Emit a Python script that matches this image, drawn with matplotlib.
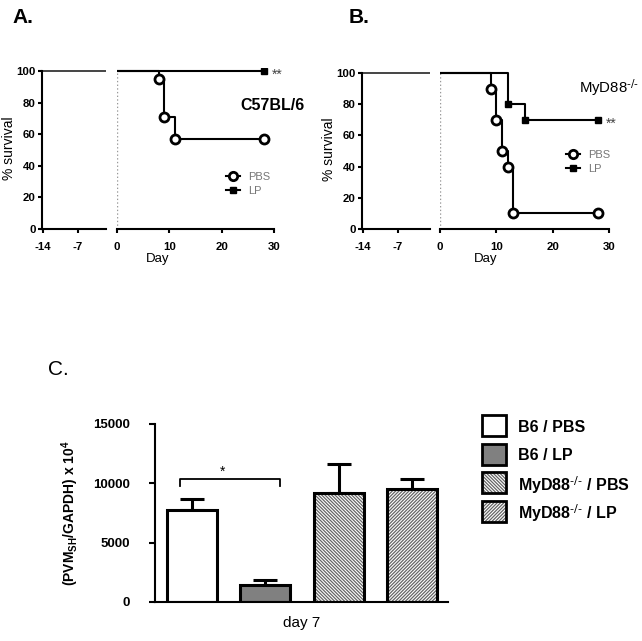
# Survival curves (A, B) and PVM_SH load at day 7 (C)
import numpy as np
import matplotlib
matplotlib.use('Agg')
import matplotlib.pyplot as plt
from matplotlib.patches import Rectangle
from matplotlib.lines import Line2D

plt.rcParams['font.family'] = ['Liberation Sans', 'DejaVu Sans']
plt.rcParams['mathtext.default'] = 'regular'
plt.rcParams['hatch.linewidth'] = 0.9

# Panel A: C57BL/6
a_pbs_day = [0, 8, 9, 11, 28]
a_pbs_surv = [100, 95, 71, 57, 57]
a_lp_day = [0, 28]
a_lp_surv = [100, 100]

# Panel B: MyD88-/-
b_pbs_day = [0, 9, 10, 11, 12, 13, 28]
b_pbs_surv = [100, 90, 70, 50, 40, 10, 10]
b_lp_day = [0, 12, 15, 28]
b_lp_surv = [100, 80, 70, 70]

# periodo previo a la infeccion (linea a 100%)
pre_days = [-15, 0]
pre_surv = [100, 100]

# Panel C
groups = ['B6 / PBS', 'B6 / LP', r'MyD88$^{\text{-/-}}$ / PBS', r'MyD88$^{\text{-/-}}$ / LP']
media = [7770, 1430, 9170, 9500]
sem = [890, 390, 2470, 900]

W, H = 642, 641
fig = plt.figure(figsize=(W / 100, H / 100), dpi=100)


def px(x0, y0, x1, y1):
    # caja en pixeles -> fraccion de figura
    return [x0 / W, 1 - y1 / H, (x1 - x0) / W, (y1 - y0) / H]


def survival(ax_pre, ax_post, pbs_d, pbs_s, lp_d, lp_s, pre_lim):
    for ax in (ax_pre, ax_post):
        ax.set_ylim(0, 102)
        for s in ('top', 'right'):
            ax.spines[s].set_visible(False)
        ax.spines['bottom'].set_linewidth(1.5)
        ax.tick_params(axis='both', direction='out', length=3, width=1.5,
                       labelsize=8.2, pad=1.5)
    ax_pre.spines['left'].set_linewidth(1.5)
    ax_pre.spines['left'].set_bounds(0, 100)
    ax_pre.set_yticks([0, 20, 40, 60, 80, 100])
    ax_pre.set_yticklabels(['0', '20', '40', '60', '80', '100'], fontweight='bold', fontsize=8.2)
    ax_pre.set_xlim(*pre_lim)
    ax_pre.set_xticks([-14, -7])
    ax_pre.set_xticklabels(['-14', '-7'], fontweight='bold', fontsize=8.2)
    ax_pre.tick_params(axis='x', pad=6)
    ax_pre.plot(pre_days, pre_surv, color='#444444', lw=1.4)
    ax_pre.set_ylabel('% survival', fontsize=10, labelpad=0)

    ax_post.spines['left'].set_visible(False)
    ax_post.set_yticks([])
    ax_post.set_xlim(0, 30)
    ax_post.set_xticks([0, 10, 20, 30])
    ax_post.set_xticklabels(['0', '10', '20', '30'], fontweight='bold', fontsize=8.2)
    ax_post.tick_params(axis='x', pad=6)
    ax_post.vlines(0, 0, 100, colors='#999999', linestyles=':', lw=1)
    ax_post.plot(lp_d, lp_s, drawstyle='steps-post', color='black', lw=1.5,
                 marker='s', markersize=5, markevery=slice(1, None), zorder=3)
    ax_post.plot(pbs_d, pbs_s, drawstyle='steps-post', color='black', lw=1.5,
                 marker='o', markersize=6.5, markerfacecolor='white', markeredgewidth=2,
                 markevery=slice(1, None), zorder=4)
    ax_post.annotate('**', xy=(lp_d[-1], lp_s[-1]), xytext=(6, -3), textcoords='offset points',
                     ha='left', va='center', fontsize=10, color='#444444')


def leyenda(ax, x0, y0):
    h = [Line2D([], [], color='black', lw=1.5, marker='o', markersize=6,
                markerfacecolor='white', markeredgewidth=2),
         Line2D([], [], color='black', lw=1.5, marker='s', markersize=4.5)]
    ax.legend(h, ['PBS', 'LP'], loc='upper left', bbox_to_anchor=(x0 / W, 1 - y0 / H),
              bbox_transform=fig.transFigure, frameon=False, fontsize=8, labelcolor='#777777',
              handlelength=1.3, handletextpad=0.7, labelspacing=0.35, borderpad=0, borderaxespad=0)


# A
axA1 = fig.add_axes(px(42, 229 - 158 * 1.02, 106, 229))
axA2 = fig.add_axes(px(117, 229 - 158 * 1.02, 274, 229))
survival(axA1, axA2, a_pbs_day, a_pbs_surv, a_lp_day, a_lp_surv, (-14.2, -1.4))
leyenda(axA2, 226, 172)
axA2.text(23.5, 78, 'C57BL/6', fontsize=11.5, fontweight='bold', va='center')
fig.text(158 / W, 1 - 259 / H, 'Day', ha='center', va='center', fontsize=9.5)
fig.text(12 / W, 1 - 23 / H, 'A.', fontsize=15, fontweight='bold')

# B
axB1 = fig.add_axes(px(362, 229 - 156 * 1.02, 430, 229))
axB2 = fig.add_axes(px(440, 229 - 156 * 1.02, 609, 229))
survival(axB1, axB2, b_pbs_day, b_pbs_surv, b_lp_day, b_lp_surv, (-14.2, -0.6))
leyenda(axB2, 566, 150)
axB2.text(24.6, 90.5, r'MyD88$^{\text{-/-}}$', fontsize=10.8, va='center')
fig.text(486 / W, 1 - 259 / H, 'Day', ha='center', va='center', fontsize=9.5)
fig.text(349 / W, 1 - 23 / H, 'B.', fontsize=15, fontweight='bold')

# C
axC = fig.add_axes(px(155, 424, 448, 602))
x = np.arange(len(groups))
caras = ['white', '#808080', 'white', 'white']
tramas = [None, None, '\\' * 10, '/' * 10]
for i in range(len(groups)):
    axC.bar(x[i], media[i], width=0.68, color=caras[i], edgecolor='#666666',
            linewidth=0, hatch=tramas[i], zorder=2)
    axC.bar(x[i], media[i], width=0.68, color='none', edgecolor='black',
            linewidth=2.2, zorder=3)
axC.errorbar(x, media, yerr=[np.zeros(len(media)), sem], fmt='none', ecolor='black',
             elinewidth=2.2, capsize=8.5, capthick=2.2, zorder=1)
axC.set_xlim(-0.505, 3.49)
axC.set_ylim(0, 15000)
axC.set_xticks([])
axC.set_yticks([0, 5000, 10000, 15000])
axC.set_yticklabels(['0', '5000', '10000', '15000'], fontweight='bold', fontsize=9.5)
axC.tick_params(axis='y', direction='out', length=4, width=1.5, pad=14)
for s in ('top', 'right'):
    axC.spines[s].set_visible(False)
for s in ('left', 'bottom'):
    axC.spines[s].set_linewidth(1.5)
axC.set_ylabel('(PVM$_{SH}$/GAPDH) x 10$^{4}$', fontsize=10, fontweight='bold', labelpad=9)
axC.set_xlabel('day 7', fontsize=11, labelpad=10)

# significancia
axC.plot([-0.16, -0.16, 1.2, 1.2], [9800, 10370, 10370, 9800], color='black', lw=1.3)
axC.text(0.42, 11000, '*', ha='center', va='center', fontsize=10)

# leyenda de C dibujada a mano (cajas de 24x21 px, paso de 28.5 px)
for i in range(len(groups)):
    top = 415 + 28.5 * i
    fig.add_artist(Rectangle((482 / W, 1 - (top + 21) / H), 24 / W, 21 / H,
                             transform=fig.transFigure, facecolor=caras[i],
                             edgecolor='#666666', linewidth=0, hatch=tramas[i]))
    fig.add_artist(Rectangle((482 / W, 1 - (top + 21) / H), 24 / W, 21 / H,
                             transform=fig.transFigure, facecolor='none',
                             edgecolor='black', linewidth=2))
    fig.text(518 / W, 1 - (top + 10.5) / H, groups[i], fontsize=11.5, fontweight='bold',
             va='center_baseline')
fig.text(48 / W, 1 - 375 / H, 'C.', fontsize=15)

fig.savefig('out.png', dpi=100)
